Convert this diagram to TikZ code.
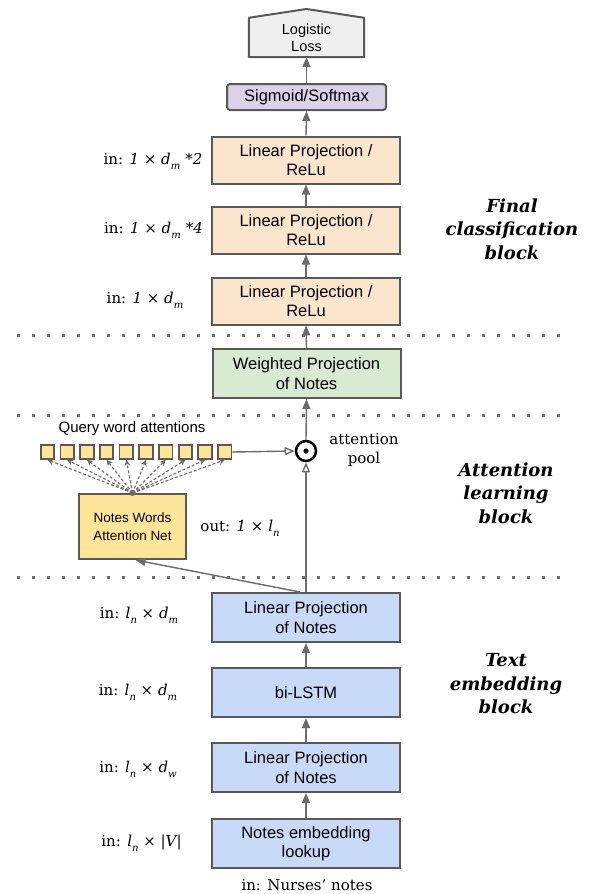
\documentclass[tikz,border=0pt]{standalone}
\usepackage{fontspec}
\setmainfont{DejaVu Serif}
\newfontfamily\sansf{Liberation Sans}
\usetikzlibrary{arrows.meta}
\definecolor{bd}{HTML}{595959}
\definecolor{ar}{HTML}{6b6b6b}
\definecolor{dotc}{HTML}{707070}
\definecolor{lossc}{HTML}{EFEFEF}
\definecolor{sigc}{HTML}{D9D2E9}
\definecolor{peach}{HTML}{FCE5CD}
\definecolor{greenc}{HTML}{D9EAD3}
\definecolor{bluec}{HTML}{C9DAF8}
\definecolor{yellowc}{HTML}{FFE599}
\newcommand{\sbx}[1]{\raisebox{-0.6ex}{\fontsize{10}{10}\selectfont\itshape #1}}
\begin{document}
\begin{tikzpicture}[x=1pt,y=-1pt,
  box/.style={draw=bd, line width=2pt, minimum width=188pt, minimum height=47pt, inner sep=0pt, align=center, font=\sansf\fontsize{16.5}{19.5}\selectfont},
  arr/.style={draw=ar, line width=1.4pt, -{Triangle[length=10pt,width=8pt]}},
  oarr/.style={draw=ar, line width=1.4pt, -{Triangle[open,length=10pt,width=8pt,fill=white]}},
  dasharr/.style={draw=ar, line width=1.1pt, dash pattern=on 3pt off 2pt, -{Stealth[length=6pt,width=6pt,inset=2pt]}},
  sepline/.style={draw=dotc, line width=3pt, dash pattern=on 3pt off 12pt},
  dimlab/.style={font=\fontsize{15}{18}\selectfont, inner sep=0pt},
  blocklab/.style={font=\fontsize{18}{23.5}\selectfont\bfseries\itshape, align=center},
  sq/.style={draw=bd, fill=yellowc, line width=1.8pt, minimum width=13.5pt, minimum height=14pt, inner sep=0pt}
]
\useasboundingbox (0,0) rectangle (592,894);

% separators
\draw[sepline] (17,335) -- (565,335);
\draw[sepline] (17,415) -- (565,415);
\draw[sepline] (17,577) -- (565,577);

% final block
\node[minimum width=115pt, minimum height=39pt, inner sep=0pt] (loss) at (306.5,37.5) {};
\draw[draw=bd, fill=lossc, line width=2pt, line join=round] (loss.south west) -- (loss.north west) -- (306.5,9) -- (loss.north east) -- (loss.south east) -- cycle;
\node[align=center, font=\sansf\fontsize{14.5}{17}\selectfont] at (loss.center) {Logistic\\Loss};
\node[box, fill=sigc, minimum width=159pt, minimum height=26pt, rounded corners=3pt] (sig) at (306.5,97) {Sigmoid/Softmax};
\node[box, fill=peach] (lp3) at (306,160) {Linear Projection /\\ReLu};
\node[box, fill=peach] (lp2) at (306,230) {Linear Projection /\\ReLu};
\node[box, fill=peach] (lp1) at (306,301) {Linear Projection /\\ReLu};

\node[box, fill=greenc, minimum height=49pt] (wp) at (306.5,373.5) {Weighted Projection\\of Notes};

% attention block
\node[circle, draw=black, line width=2.5pt, minimum size=20pt, inner sep=0pt] (pool) at (306,451) {};
\fill[black] (pool.center) circle (2.6pt);
\node[align=center, font=\fontsize{15}{19}\selectfont] (pooltxt) at (364,450) {attention\\pool};
\node[font=\sansf\fontsize{15}{18}\selectfont] (qtxt) at (132,429) {Query word attentions};
\foreach \i in {0,...,9} {
  \node[sq] (q\i) at ({47.5+19.7*\i},452) {};
}
\node[box, fill=yellowc, minimum width=107pt, minimum height=65pt, font=\sansf\fontsize{13.5}{18}\selectfont] (nw) at (132.5,526.5) {Notes Words\\Attention Net};
\node[dimlab] (outlab) at (240,528) {out: {\itshape 1 × l}\sbx{n}};

% text embedding block
\node[box, fill=bluec, minimum height=49pt] (lin4) at (306,617.5) {Linear Projection\\of Notes};
\node[box, fill=bluec, minimum height=49pt] (lstm) at (306,692.5) {bi-LSTM};
\node[box, fill=bluec, minimum height=49pt] (lin1) at (306,767.5) {Linear Projection\\of Notes};
\node[box, fill=bluec, minimum height=49pt] (emb) at (306,843.5) {Notes embedding\\lookup};
\node[font=\fontsize{15}{18}\selectfont, inner sep=0pt] (nurse) at (307,885) {in: Nurses’ notes};

% dimension labels
\node[dimlab] (d3) at (153,161) {in: {\itshape 1 × d}\sbx{m}\,{\itshape\,*2}};
\node[dimlab] (d2) at (153.5,230) {in: {\itshape 1 × d}\sbx{m}\,{\itshape\,*4}};
\node[dimlab] (d1) at (145,300) {in: {\itshape 1 × d}\sbx{m}};
\node[dimlab] (e4) at (139,615) {in: {\itshape l}\sbx{n} {\itshape × d}\sbx{m}};
\node[dimlab] (e3) at (138,692) {in: {\itshape l}\sbx{n} {\itshape × d}\sbx{m}};
\node[dimlab] (e2) at (138,769) {in: {\itshape l}\sbx{n} {\itshape × d}\sbx{w}};
\node[dimlab] (e1) at (141.5,843) {in: {\itshape l}\sbx{n} {\itshape × |V|}};

% block labels
\node[blocklab] (fcb) at (512,229) {Final\\classification\\block};
\node[blocklab] (alb) at (506,493) {Attention\\learning\\block};
\node[blocklab] (teb) at (506,684) {Text\\embedding\\block};

% connectors
\draw[arr] (emb.north) -- (lin1.south);
\draw[arr] (lin1.north) -- (lstm.south);
\draw[arr] (lstm.north) -- (lin4.south);
\draw[oarr] (lin4.north) -- (pool.south);
\draw[arr] ([xshift=-6pt]lin4.north) -- ([xshift=3pt]nw.south);
\draw[oarr] (q9.east) -- (pool.west);
\draw[arr] (pool.north) -- (wp.south);
\draw[arr] (wp.north) -- (lp1.south);
\draw[arr] (lp1.north) -- (lp2.south);
\draw[arr] (lp2.north) -- (lp3.south);
\draw[arr] (lp3.north) -- (sig.south);
\draw[arr] (sig.north) -- (loss.south);
\foreach \i in {0,...,9} {
  \draw[dasharr] (nw.north) -- (q\i.south);
}
\fill[ar] (nw.north) circle (3pt);
\end{tikzpicture}
\end{document}
